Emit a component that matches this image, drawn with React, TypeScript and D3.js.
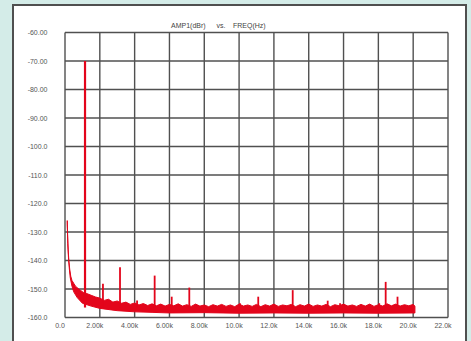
import React from "react";
import * as d3 from "d3";

// axis ticks
const xTicks = [0, 2, 4, 6, 8, 10, 12, 14, 16, 18, 20, 22];
const xTickLabels = ["0.0", "2.00k", "4.00k", "6.00k", "8.00k", "10.0k", "12.0k", "14.0k", "16.0k", "18.0k", "20.0k", "22.0k"];
const yTicks = [-60, -70, -80, -90, -100, -110, -120, -130, -140, -150, -160];
const yTickLabels = ["-60.00", "-70.00", "-80.00", "-90.00", "-100.0", "-110.0", "-120.0", "-130.0", "-140.0", "-150.0", "-160.0"];

// noise floor, top edge of the trace (kHz, dBr)
const topFreq = [0.13, 0.15, 0.18, 0.22, 0.27, 0.33, 0.4, 0.5, 0.6, 0.75, 0.9, 1.05, 1.25, 1.5, 1.75,
  2.0, 2.25, 2.5, 2.75, 3.0, 3.25, 3.5, 3.75, 4.0, 4.25, 4.5, 4.75, 5.0, 5.25, 5.5, 5.75,
  6.0, 6.25, 6.5, 6.75, 7.0, 7.25, 7.5, 7.75, 8.0, 8.25, 8.5, 8.75, 9.0, 9.25, 9.5, 9.75,
  10.0, 10.25, 10.5, 10.75, 11.0, 11.25, 11.5, 11.75, 12.0, 12.25, 12.5, 12.75, 13.0, 13.25, 13.5, 13.75,
  14.0, 14.25, 14.5, 14.75, 15.0, 15.25, 15.5, 15.75, 16.0, 16.25, 16.5, 16.75, 17.0, 17.25, 17.5, 17.75,
  18.0, 18.25, 18.5, 18.75, 19.0, 19.25, 19.5, 19.75, 20.0, 20.1];
const topLevel = [-126, -131, -136, -140, -143, -145.5, -147, -148, -149, -149.8, -150.5, -151.2, -151.6, -152.2, -152.8,
  -153.2, -154.0, -153.6, -154.6, -154.2, -155.0, -154.6, -155.4, -154.9, -155.6, -155.1, -155.8, -155.2, -155.9, -155.3, -156.0,
  -155.4, -155.9, -155.2, -156.0, -155.5, -156.1, -155.3, -156.0, -155.6, -156.2, -155.5, -156.0, -155.4, -156.1, -155.6, -156.2,
  -155.3, -156.0, -155.6, -156.1, -155.4, -156.2, -155.5, -156.0, -155.3, -156.1, -155.6, -155.9, -155.4, -156.2, -155.5, -156.0,
  -155.3, -156.1, -155.6, -156.0, -155.4, -156.2, -155.5, -155.9, -155.3, -156.0, -155.6, -156.1, -155.4, -156.0, -155.3, -156.1,
  -155.5, -156.0, -155.2, -155.9, -155.3, -156.0, -155.5, -155.9, -155.4, -156.0];

// noise floor, bottom edge of the trace
const lowFreq = [0.13, 0.16, 0.2, 0.25, 0.3, 0.4, 0.5, 0.7, 1.0, 1.5, 2.0, 3.0, 4.0, 5.0, 6.0, 8.0, 10.0, 12.0, 14.0, 16.0, 18.0, 20.1];
const lowLevel = [-127.5, -134, -139, -143, -146, -149, -151, -153, -155, -156, -156.8, -157.6, -158, -158.2, -158.4, -158.3, -158.5, -158.4, -158.5, -158.4, -158.5, -158.4];

// fundamental and spurs
const spikeFreq = [1.15, 2.18, 3.16, 4.14, 5.15, 6.13, 7.14, 10.05, 11.1, 13.08, 15.09, 15.8, 18.05, 18.42, 19.1];
const spikeLevel = [-70, -148.2, -142.4, -154, -145.3, -152.7, -149.5, -155, -152.7, -150.4, -154.1, -155, -155, -147.5, -152.7];

const W = 471;
const H = 341;
const RED = "#e3051b";
const GRID = "#505050";
const FONT = "'Liberation Sans', Arial, sans-serif";

export default function App() {
  const x = d3.scaleLinear().domain([0, 22]).range([65, 448]);
  const y = d3.scaleLinear().domain([-160, -60]).range([317.5, 32.5]);

  const pts: [number, number][] = [
    ...topFreq.map((f, i) => [x(f), y(topLevel[i])] as [number, number]),
    ...lowFreq.map((f, i) => [x(f), y(lowLevel[i])] as [number, number]).reverse(),
  ];
  const band = d3.line().curve(d3.curveLinear)(pts) + "Z";

  return (
    <svg width={W} height={H} style={{ position: "absolute", left: 0, top: 0 }}>
      <rect x={0} y={0} width={W} height={H} fill="#d4ece8" />
      <rect x={13} y={5} width={453} height={350} fill="#fff" stroke="#4f4f4f" strokeWidth={2} />

      <g fontFamily={FONT} fontSize={7} fill="#444">
        <text x={171} y={27.5}>AMP1(dBr)</text>
        <text x={216.5} y={27.5}>vs.</text>
        <text x={233} y={27.5}>FREQ(Hz)</text>
      </g>

      {/* grid */}
      <g stroke={GRID} strokeWidth={1.4}>
        {xTicks.map((t) => (
          <line key={"vx" + t} x1={x(t)} x2={x(t)} y1={y(-60)} y2={y(-160)} />
        ))}
        {yTicks.map((t) => (
          <line key={"hy" + t} x1={x(0)} x2={x(22)} y1={y(t)} y2={y(t)} />
        ))}
      </g>

      {/* tick labels */}
      <g fontFamily={FONT} fontSize={7} fill="#555">
        {yTicks.map((t, i) => (
          <text key={"yl" + t} x={47.5} y={y(t) + 2.5} textAnchor="end">{yTickLabels[i]}</text>
        ))}
        {xTicks.map((t, i) => (
          <text key={"xl" + t} x={x(t) - 5} y={327.5} textAnchor="middle">{xTickLabels[i]}</text>
        ))}
      </g>

      {/* trace */}
      <path d={band} fill={RED} stroke={RED} strokeWidth={1} strokeLinejoin="round" />
      {spikeFreq.map((f, i) => (
        <line key={"sp" + i} x1={x(f)} x2={x(f)} y1={y(-156.5)} y2={y(spikeLevel[i])}
          stroke={RED} strokeWidth={i === 0 ? 2.2 : 1.8} />
      ))}
    </svg>
  );
}
